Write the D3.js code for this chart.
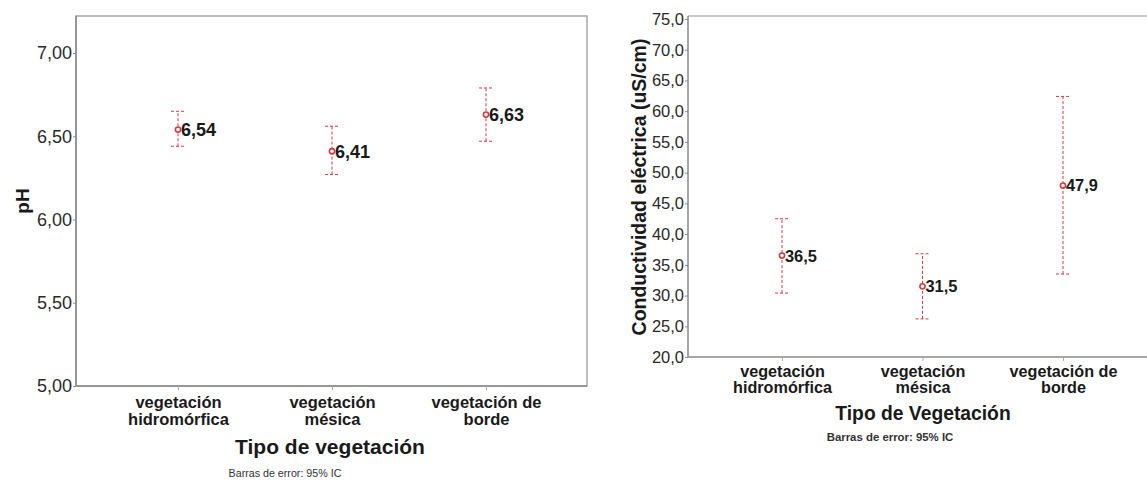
<!DOCTYPE html>
<html><head><meta charset="utf-8">
<script src="https://cdn.jsdelivr.net/npm/d3@7"></script>
<style>body{margin:0;background:#fff}svg{display:block;font-family:Arial,"Liberation Sans",sans-serif}</style>
</head><body><svg id="c" width="1147" height="482"></svg>
<script>
// Left chart: pH
const categoriesPH = ["vegetación\nhidromórfica", "vegetación\nmésica", "vegetación de\nborde"];
const meanPH = [6.54, 6.41, 6.63];
const lowPH = [6.44, 6.27, 6.47];
const highPH = [6.65, 6.56, 6.79];
const labelsPH = ["6,54", "6,41", "6,63"];
const ticksPH = [5.0, 5.5, 6.0, 6.5, 7.0];

// Right chart: conductividad
const categoriesCE = ["vegetación\nhidromórfica", "vegetación\nmésica", "vegetación de\nborde"];
const meanCE = [36.5, 31.5, 47.9];
const lowCE = [30.4, 26.2, 33.5];
const highCE = [42.5, 36.8, 62.4];
const labelsCE = ["36,5", "31,5", "47,9"];
const ticksCE = [20, 25, 30, 35, 40, 45, 50, 55, 60, 65, 70, 75];

const svg = d3.select("#c");
const red = "#d23a4a", axisCol = "#8a8a8a", txt = "#1a1a1a";
const comma = (d, n) => d.toFixed(n).replace(".", ",");

function chart(o) {
  const g = svg.append("g");
  const x = d3.scalePoint().domain(o.cats).range([o.x0, o.x1]);
  const y = d3.scaleLinear().domain(o.ydom).range(o.yr);
  // frame
  if (o.box) {
    g.append("rect").attr("x", o.left).attr("y", o.top).attr("width", o.right - o.left).attr("height", o.bottom - o.top)
      .attr("fill", "none").attr("stroke", "#a8a8a8").attr("stroke-width", 1.5);
  } else {
    g.append("line").attr("x1", o.left).attr("x2", o.right).attr("y1", o.top).attr("y2", o.top).attr("stroke", "#b8b8b8").attr("stroke-width", 1.5);
  }
  // y axis
  const ya = g.append("g").attr("transform", `translate(${o.left},0)`)
    .call(d3.axisLeft(y).tickValues(o.ticks).tickSize(3).tickPadding(1).tickFormat(d => comma(d, o.dec)));
  ya.select(".domain").attr("d", `M0,${o.top}V${o.bottom}`).attr("stroke", axisCol).attr("stroke-width", 1.5);
  ya.selectAll(".tick line").attr("stroke", axisCol);
  ya.selectAll(".tick text").attr("font-size", o.tickFs).attr("fill", "#2a2a2a").attr("font-family", "Arial, Liberation Sans, sans-serif");
  // x axis
  const xa = g.append("g").attr("transform", `translate(0,${o.bottom})`)
    .call(d3.axisBottom(x).tickSize(4).tickFormat(""));
  xa.select(".domain").attr("d", `M${o.left},0H${o.right}`).attr("stroke", axisCol).attr("stroke-width", 1.5);
  xa.selectAll(".tick line").attr("stroke", "#aaa");
  xa.selectAll(".tick").each(function (d) {
    const lines = d.split("\n");
    const t = d3.select(this).append("text").attr("fill", txt).attr("font-weight", "bold")
      .attr("font-size", o.catFs).attr("text-anchor", "middle").attr("font-family", "Arial, Liberation Sans, sans-serif");
    lines.forEach((l, i) => t.append("tspan").attr("x", 0).attr("y", o.catY + i * o.catLh).text(l));
  });
  // error bars
  const idx = d3.range(o.cats.length);
  const eb = g.append("g").attr("stroke", red).attr("stroke-width", 1).attr("stroke-dasharray", "3,2");
  idx.forEach(i => {
    const cx = x(o.cats[i]);
    eb.append("line").attr("x1", cx).attr("x2", cx).attr("y1", y(o.low[i])).attr("y2", y(o.high[i]));
    eb.append("line").attr("x1", cx - o.cap).attr("x2", cx + o.cap).attr("y1", y(o.low[i])).attr("y2", y(o.low[i]));
    eb.append("line").attr("x1", cx - o.cap).attr("x2", cx + o.cap).attr("y1", y(o.high[i])).attr("y2", y(o.high[i]));
  });
  g.selectAll("circle.pt").data(idx).join("circle").attr("class", "pt")
    .attr("cx", i => x(o.cats[i])).attr("cy", i => y(o.mean[i])).attr("r", 2.6)
    .attr("fill", "#fff").attr("stroke", red).attr("stroke-width", 1.6);
  g.selectAll("text.lbl").data(idx).join("text").attr("class", "lbl")
    .attr("x", i => x(o.cats[i]) + 3).attr("y", i => y(o.mean[i])).attr("dy", "0.36em")
    .attr("font-size", o.lblFs).attr("font-weight", "bold").attr("fill", txt).text(i => o.labels[i]);
  // titles
  g.append("text").attr("x", o.xtX).attr("y", o.xtY).attr("text-anchor", "middle").attr("font-size", o.xtFs)
    .attr("font-weight", "bold").attr("fill", txt).text(o.xTitle);
  g.append("text").attr("transform", `translate(${o.ytX},${o.ytY}) rotate(-90)`).attr("text-anchor", "middle")
    .attr("font-size", o.ytFs).attr("font-weight", "bold").attr("fill", txt).text(o.yTitle);
  g.append("text").attr("x", o.noteX).attr("y", o.noteY).attr("text-anchor", "middle").attr("font-size", o.noteFs)
    .attr("font-weight", o.noteW).attr("fill", "#333").text("Barras de error: 95% IC");
}

chart({
  cats: categoriesPH, mean: meanPH, low: lowPH, high: highPH, labels: labelsPH, ticks: ticksPH, dec: 2,
  x0: 178, x1: 486, ydom: [5, 7], yr: [386, 53],
  left: 76, right: 587, top: 16, bottom: 386, box: true,
  tickFs: 18, catFs: 16.5, catY: 22, catLh: 17, cap: 7, lblFs: 18,
  xTitle: "Tipo de vegetación", xtX: 330, xtY: 454, xtFs: 21,
  yTitle: "pH", ytX: 29, ytY: 201, ytFs: 19,
  noteX: 285, noteY: 477, noteFs: 10.7, noteW: "normal"
});

chart({
  cats: categoriesCE, mean: meanCE, low: lowCE, high: highCE, labels: labelsCE, ticks: ticksCE, dec: 1,
  x0: 782, x1: 1063, ydom: [20, 75], yr: [357, 19],
  left: 688, right: 1147, top: 16, bottom: 357, box: false,
  tickFs: 16.5, catFs: 16.2, catY: 20, catLh: 16, cap: 7, lblFs: 16.4,
  xTitle: "Tipo de Vegetación", xtX: 923, xtY: 420, xtFs: 19.3,
  yTitle: "Conductividad eléctrica (uS/cm)", ytX: 646, ytY: 187, ytFs: 19.5,
  noteX: 890, noteY: 441, noteFs: 11.4, noteW: "bold"
});
</script></body></html>
